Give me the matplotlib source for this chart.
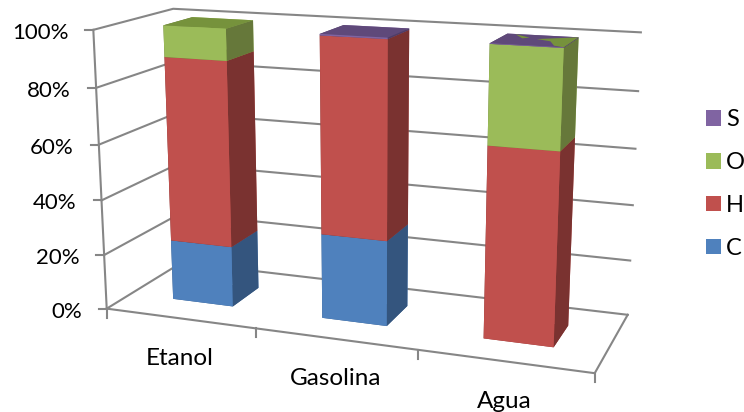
import numpy as np
import matplotlib
matplotlib.use("Agg")
import matplotlib.pyplot as plt
from matplotlib.lines import Line2D
from matplotlib.patches import Patch
from mpl_toolkits.mplot3d.art3d import Poly3DCollection

W, H = 744, 412
plt.rcParams['font.family'] = ['Lato', 'DejaVu Sans']
GRID = '#868686'
LW = 1.5

categories = ['Etanol', 'Gasolina', 'Agua']
carbon = [22.2, 30.5, 0]
hydrogen = [66.7, 69, 66.5]
oxygen = [11.1, 0, 33.3]
sulfur = [0, 0.5, 0.2]
percent_ticks = [0, 20, 40, 60, 80, 100]
percent_labels = ['0%', '20%', '40%', '60%', '80%', '100%']

# front, side and top shade of each element
shades = {
    'C': ['#4F81BD', '#34557E', '#385D8A'],
    'H': ['#C0504D', '#7A3230', '#943634'],
    'O': ['#9BBB59', '#66783A', '#76923C'],
    'S': ['#8064A2', '#4F3D66', '#5F497A'],
}
bar_w, bar_y0, bar_y1 = 0.4097, 0.3061, 0.6891

fig = plt.figure(figsize=(W/100, H/100), dpi=100)
ax = fig.add_subplot(projection='3d', computed_zorder=False)
ax.set_xlim(0, 3, view_margin=0)
ax.set_ylim(0, 1, view_margin=0)
ax.set_zlim(0, 100, view_margin=0)
ax.view_init(elev=14.177, azim=-69.643, roll=0.057)
ax.set_box_aspect((1.7549, 0.5765, 1))
ax.set_proj_type('persp', focal_length=0.4469)
ax.set_position([62.44/W, -65.75/H, 589.80/W, 589.80/H])
ax.apply_aspect()
ax.set_axis_off()


def to_fig(x, y, z):
    # 3d data point -> pixels on the figure
    v = ax.get_proj() @ np.array([x, y, z, 1.0])
    return ax.transData.transform((v[0]/v[3], v[1]/v[3]))


def fig_line(xs, ys):
    fig.add_artist(Line2D(np.array(xs)/W, np.array(ys)/H, transform=fig.transFigure,
                          color=GRID, lw=LW))


# walls and floor
for z in percent_ticks:
    ax.plot([0, 0, 3], [0, 1, 1], [z, z, z], color=GRID, lw=LW, zorder=1, clip_on=False)
ax.plot([0, 0], [0, 0], [0, 100], color=GRID, lw=LW, zorder=1, clip_on=False)
ax.plot([0, 3, 3], [0, 0, 1], [0, 0, 0], color=GRID, lw=LW, zorder=1, clip_on=False)

# stacked columns
for i in range(len(categories)):
    base = 0
    for k, (key, vals) in enumerate([('C', carbon), ('H', hydrogen), ('O', oxygen), ('S', sulfur)]):
        v = vals[i]
        if v == 0:
            continue
        front, side, top = shades[key]
        ax.bar3d(i + .5 - bar_w/2, bar_y0, base, bar_w, bar_y1 - bar_y0, v,
                 color=[top, top, front, front, side, side],
                 shade=False, linewidth=0, zorder=5 + k, clip_on=False)
        base += v

# the oxygen top shows through the very thin sulfur layer on Agua
bleed = [
    [(1, 0), (1, 1), (0.5, 0.62), (0.72, 0.48), (0.85, 0.1)],
    [(0.12, 0.98), (0.38, 0.72), (0.3, 0.62)],
]
bx = 2.5 - bar_w/2
for poly in bleed:
    verts = [(bx + u*bar_w, bar_y0 + t*(bar_y1 - bar_y0), 100) for u, t in poly]
    ax.add_collection3d(Poly3DCollection([verts], facecolor=shades['O'][2], linewidth=0,
                                         zorder=20, clip_on=False))

# tick marks and labels
for z, lab in zip(percent_ticks, percent_labels):
    px, py = to_fig(0, 0, z)
    fig_line([px - 8, px], [py, py])
    fig.text((px - 25)/W, (py - 3)/H, lab, ha='right', va='center', fontsize=16, color='k')

for i in range(len(categories) + 1):
    px, py = to_fig(i, 0, 0)
    fig_line([px, px], [py - 9, py])

for i, name in enumerate(categories):
    px, py = to_fig(i + .5, 0, 0)
    fig.text(px/W, (py - 40)/H, name, ha='center', va='center', fontsize=17.5, color='k')

handles = [Patch(facecolor=shades[k][0], label=k) for k in ['S', 'O', 'H', 'C']]
fig.legend(handles=handles, loc='center left', bbox_to_anchor=(694/W, 1 - 184/H), frameon=False,
           fontsize=17, handlelength=0.64, handleheight=0.64, handletextpad=0.22,
           labelspacing=0.93, borderpad=0, borderaxespad=0.5)

fig.savefig('out.png', dpi=100)
